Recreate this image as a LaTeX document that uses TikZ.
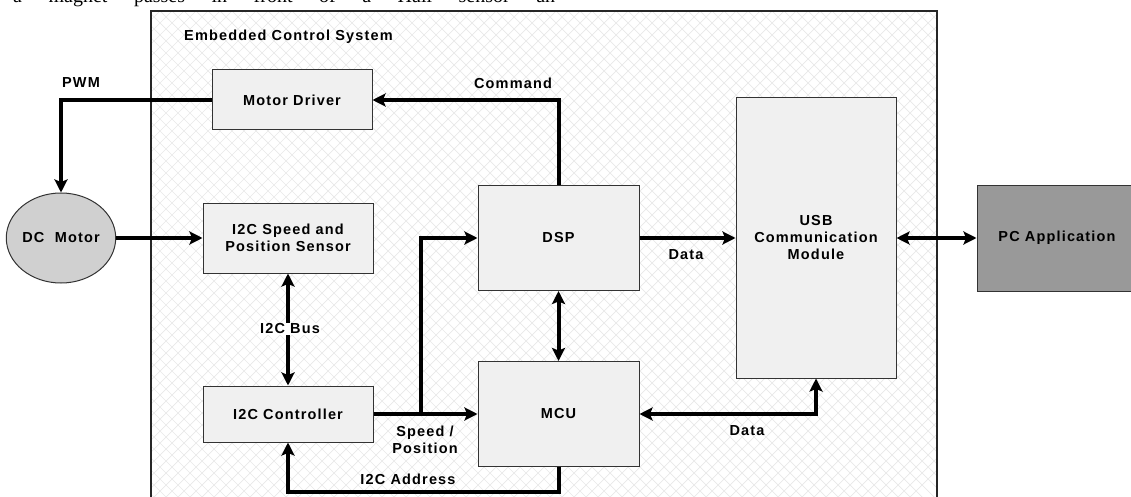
\documentclass[tikz,border=0pt]{standalone}
\usepackage{fontspec}
\setmainfont{Liberation Serif}
\newfontfamily\lblfont[LetterSpace=8]{Liberation Sans}
\usetikzlibrary{shapes.geometric,arrows.meta}
\definecolor{boxgray}{HTML}{F0F0F0}
\definecolor{motorgray}{HTML}{D0D0D0}
\definecolor{pcgray}{HTML}{999999}
\definecolor{hatchgray}{HTML}{E8E8E8}
\tikzset{
  lbl/.style={font=\lblfont\bfseries\fontsize{14.5}{17}\selectfont, inner sep=1pt, align=center},
  blk/.style={lbl, draw=black!80, line width=1pt, fill=boxgray, inner sep=0pt},
  conn/.style={line width=4pt, line join=miter},
  arr/.style={-{Stealth[length=13pt,width=13pt,inset=2.5pt]}},
  darr/.style={{Stealth[length=13pt,width=13pt,inset=2.5pt]}-{Stealth[length=13pt,width=13pt,inset=2.5pt]}},
  hatch/.style={draw=hatchgray, line width=0.7pt}
}
\begin{document}
\begin{tikzpicture}[x=1pt,y=-1pt]
\useasboundingbox (0,0) rectangle (1131,497);
\clip (0,0) rectangle (1131,497);
% clipped text line at the top
\node[anchor=base west, inner sep=0pt, font=\fontsize{20}{24}\selectfont] (toptext) at (13,3)
  {\makebox[542pt][s]{a magnet passes in front of a Hall sensor an}};
% system frame with crosshatch
\begin{scope}
  \clip (151,11) rectangle (937,520);
  \foreach \i in {-500,-488,...,1400} {
    \draw[hatch] (\i,11) -- ++(520,520);
    \draw[hatch] (\i,11) -- ++(-520,520);
  }
\end{scope}
\draw[line width=1.5pt, draw=black!85] (151,11) rectangle (937,520);
\node[lbl, anchor=west] (title) at (183,37) {Embedded Control System};
% blocks
\node[blk, minimum width=160pt, minimum height=60pt] (md) at (292,100) {Motor Driver};
\node[blk, minimum width=170pt, minimum height=70pt] (sensor) at (288,238) {I2C Speed and\\Position Sensor};
\node[blk, minimum width=170pt, minimum height=56pt] (ctrl) at (288,414) {I2C Controller};
\node[blk, minimum width=161pt, minimum height=105pt] (dsp) at (558.5,238) {DSP};
\node[blk, minimum width=161pt, minimum height=105pt] (mcu) at (558.5,414) {MCU};
\node[blk, minimum width=160pt, minimum height=280pt] (usb) at (816,238) {USB\\Communication\\Module};
\node[blk, fill=pcgray, minimum width=160pt, minimum height=106pt] (pc) at (1057,238) {PC Application};
\node[blk, ellipse, fill=motorgray, minimum width=102pt, minimum height=90pt] (dc) at (61,238) {DC\ \ Motor};
% connectors
\draw[conn,arr] (md.west) -| (dc.north);
\draw[conn,arr] (dc.east) -- (sensor.west);
\draw[conn,darr] (sensor.south) -- (ctrl.north);
\node[lbl, fill=white] (buslbl) at (290,329) {I2C Bus};
\draw[conn,arr] (ctrl.east) -- (mcu.west);
\coordinate (br) at (421,414);
\draw[conn,arr] (br) |- (dsp.west);
\draw[conn,arr] (dsp.north) |- (md.east);
\draw[conn,darr] (dsp.south) -- (mcu.north);
\draw[conn,arr] (dsp.east) -- (usb.west);
\draw[conn,darr] (usb.east) -- (pc.west);
\draw[conn,darr] (mcu.east) -| (usb.south);
\coordinate (ab) at (558.5,492);
\draw[conn,arr] (mcu.south) -- (ab) -| (ctrl.south);
% labels
\node[lbl] (pwm) at (81,83) {PWM};
\node[lbl] (cmd) at (513,83) {Command};
\node[lbl] (data1) at (686,255) {Data};
\node[lbl] (sp) at (425,440) {Speed /\\Position};
\node[lbl] (addr) at (408,479) {I2C Address};
\node[lbl] (data2) at (747,431) {Data};
\end{tikzpicture}
\end{document}
